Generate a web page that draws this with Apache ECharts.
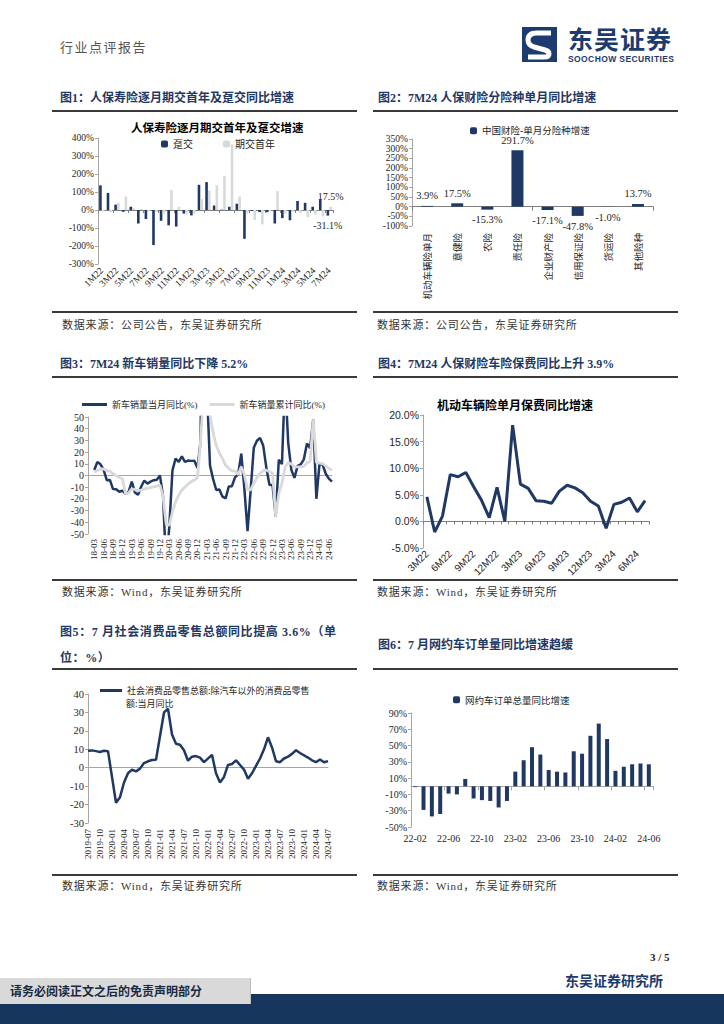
<!DOCTYPE html>
<html><head><meta charset="utf-8">
<script src="https://cdn.jsdelivr.net/npm/echarts/dist/echarts.min.js"></script>
<style>
html,body{margin:0;padding:0;background:#fff;}
body{width:724px;height:1024px;position:relative;overflow:hidden;font-family:'Liberation Serif','Noto Sans CJK SC',serif;}
.abs{position:absolute;white-space:nowrap;}
.hdr{left:60px;top:38px;font-size:13px;line-height:18px;color:#555;font-family:'Noto Sans CJK SC',sans-serif;letter-spacing:1.5px;}
.ft{font-size:12px;line-height:16px;font-weight:bold;color:#1f3864;font-family:'Liberation Serif','Noto Sans CJK SC',serif;}
.rule{position:absolute;height:2px;background:#3a3a3a;}
.src{font-size:11px;line-height:16px;color:#333;letter-spacing:0.8px;font-family:'Liberation Serif','Noto Sans CJK SC',serif;}
.chart{position:absolute;width:305px;}
</style></head>
<body>
<div class="abs hdr">行业点评报告</div>
<svg class="abs" style="left:522px;top:27px" width="35" height="35" viewBox="0 0 35 35">
  <rect width="35" height="35" fill="#1d3b6e"/>
  <path d="M29 6 L15 6 Q6 6 6 13 Q6 18 12 20 L23 23 Q27 24 27 27 Q27 30 22 30 L6 30" stroke="#fff" stroke-width="5" fill="none" stroke-linejoin="round"/>
  <path d="M12 14 L24 16" stroke="#1d3b6e" stroke-width="2"/>
</svg>
<div class="abs" style="left:568px;top:25px;font-size:25px;line-height:26px;font-weight:bold;color:#1d3b6e;font-family:'Noto Sans CJK SC',sans-serif;letter-spacing:1px;">东吴证券</div>
<div class="abs" style="left:568px;top:55px;font-size:8.5px;line-height:9px;font-weight:bold;color:#1d3b6e;font-family:'Liberation Sans',sans-serif;letter-spacing:0.4px;">SOOCHOW SECURITIES</div>

<div class="abs ft" style="left:60px;top:90px;">图1：人保寿险逐月期交首年及趸交同比增速</div>
<div class="abs ft" style="left:378px;top:90px;">图2：7M24 人保财险分险种单月同比增速</div>
<div class="rule" style="left:52px;top:110px;width:305px;"></div>
<div class="rule" style="left:373px;top:110px;width:305px;"></div>

<div id="c1" class="chart" style="left:52px;top:118px;height:192px;"></div>
<div id="c2" class="chart" style="left:373px;top:118px;height:192px;"></div>

<div class="rule" style="left:52px;top:311px;width:305px;"></div>
<div class="rule" style="left:373px;top:311px;width:305px;"></div>
<div class="abs src" style="left:62px;top:317px;">数据来源：公司公告，东吴证券研究所</div>
<div class="abs src" style="left:377px;top:317px;">数据来源：公司公告，东吴证券研究所</div>

<div class="abs ft" style="left:60px;top:356px;">图3：7M24 新车销量同比下降 5.2%</div>
<div class="abs ft" style="left:378px;top:356px;">图4：7M24 人保财险车险保费同比上升 3.9%</div>
<div class="rule" style="left:52px;top:376px;width:305px;"></div>
<div class="rule" style="left:373px;top:376px;width:305px;"></div>

<div id="c3" class="chart" style="left:52px;top:386px;height:190px;"></div>
<div id="c4" class="chart" style="left:373px;top:386px;height:190px;"></div>

<div class="rule" style="left:52px;top:579px;width:305px;"></div>
<div class="rule" style="left:373px;top:579px;width:305px;"></div>
<div class="abs src" style="left:62px;top:584px;">数据来源：Wind，东吴证券研究所</div>
<div class="abs src" style="left:377px;top:584px;">数据来源：Wind，东吴证券研究所</div>

<div class="abs ft" style="left:60px;top:619px;line-height:26px;letter-spacing:0.6px;">图5：7 月社会消费品零售总额同比提高 3.6%（单<br>位：%）</div>
<div class="abs ft" style="left:378px;top:637px;">图6：7 月网约车订单量同比增速趋缓</div>
<div class="rule" style="left:52px;top:668px;width:305px;"></div>
<div class="rule" style="left:373px;top:668px;width:305px;"></div>

<div id="c5" class="chart" style="left:52px;top:676px;height:196px;"></div>
<div id="c6" class="chart" style="left:373px;top:676px;height:196px;"></div>

<div class="rule" style="left:52px;top:874px;width:305px;"></div>
<div class="rule" style="left:373px;top:874px;width:305px;"></div>
<div class="abs src" style="left:62px;top:878px;">数据来源：Wind，东吴证券研究所</div>
<div class="abs src" style="left:377px;top:878px;">数据来源：Wind，东吴证券研究所</div>

<div class="abs" style="left:650px;top:949px;font-size:11px;line-height:16px;font-weight:bold;color:#222;">3 / 5</div>
<div class="abs" style="left:565px;top:971px;font-size:14px;line-height:18px;font-weight:bold;color:#1d3b6e;font-family:'Noto Sans CJK SC',sans-serif;">东吴证券研究所</div>
<div class="abs" style="left:0;top:994px;width:724px;height:30px;background:#17365d;"></div>
<div class="abs" style="left:0;top:978px;width:250px;height:26px;background:#d9d9d9;border-right:1px solid #bbb;"></div>
<div class="abs" style="left:10px;top:983px;font-size:12px;line-height:16px;font-weight:bold;color:#1a2a40;font-family:'Noto Sans CJK SC',sans-serif;">请务必阅读正文之后的免责声明部分</div>

<script>
// ---------- DATA ----------
const months1 = ['1M22','2M22','3M22','4M22','5M22','6M22','7M22','8M22','9M22','10M22','11M22','12M22',
  '1M23','2M23','3M23','4M23','5M23','6M23','7M23','8M23','9M23','10M23','11M23','12M23',
  '1M24','2M24','3M24','4M24','5M24','6M24','7M24'];
const dunjiao = [137,95,30,-10,18,-75,-50,-195,-60,-85,-92,-20,
  -30,140,155,25,2,18,35,-160,-5,-12,-12,-75,
  -45,-57,50,40,18,60,-31.1];
const qijiaoShouNian = [-8,-12,40,75,12,5,-5,-10,-20,110,18,-25,
  -20,62,108,137,190,365,75,-20,-55,-80,-5,105,
  -20,-10,-15,-40,-25,-35,17.5];

const cats2 = ['机动车辆险单月','意健险','农险','责任险','企业财产险','信用保证险','货运险','其他险种'];
const vals2 = [3.9,17.5,-15.3,291.7,-17.1,-47.8,-1.0,13.7];

const months3 = ['18-01','18-02','18-03','18-04','18-05','18-06','18-07','18-08','18-09','18-10','18-11','18-12',
  '19-01','19-02','19-03','19-04','19-05','19-06','19-07','19-08','19-09','19-10','19-11','19-12',
  '20-01','20-02','20-03','20-04','20-05','20-06','20-07','20-08','20-09','20-10','20-11','20-12',
  '21-01','21-02','21-03','21-04','21-05','21-06','21-07','21-08','21-09','21-10','21-11','21-12',
  '22-01','22-02','22-03','22-04','22-05','22-06','22-07','22-08','22-09','22-10','22-11','22-12',
  '23-01','23-02','23-03','23-04','23-05','23-06','23-07','23-08','23-09','23-10','23-11','23-12',
  '24-01','24-02','24-03','24-04','24-05','24-06','24-07'];
const carMonthly = [null,null,4.7,11.5,9.6,4.8,-4.0,-3.8,-11.6,-11.7,-13.9,-13.0,
  -15.8,-13.8,-5.2,-14.6,-16.4,-9.6,-4.3,-6.9,-5.2,-4.0,-3.6,0.1,
  -18.0,-79.1,-43.3,4.4,14.5,11.6,16.4,11.6,12.8,12.5,12.6,6.4,
  29.5,365.0,74.9,8.6,-3.1,-12.4,-11.9,-18.1,-19.6,-9.4,-9.1,-1.6,
  0.9,18.7,-11.7,-47.6,-12.6,23.8,29.7,32.1,25.7,6.9,-7.9,-8.4,
  -35.0,13.5,9.7,82.7,27.9,4.8,-2.0,8.2,9.5,13.8,27.4,23.3,
  47.9,-19.9,9.9,9.3,1.5,-2.7,-5.2];
const carCumulative = [null,null,2.8,4.4,5.6,5.6,4.2,3.5,1.5,-0.1,-1.7,-2.8,
  -15.8,-14.9,-11.3,-12.1,-13.1,-12.4,-11.4,-11.0,-10.3,-9.7,-9.1,-8.2,
  -18.0,-42.0,-42.4,-31.1,-22.6,-16.9,-12.5,-9.9,-7.4,-5.3,-3.6,-1.9,
  29.5,76.0,75.6,51.8,36.6,25.6,19.3,14.4,8.7,6.1,4.0,3.8,
  0.9,7.5,0.6,-12.1,-12.2,-6.6,-2.0,1.8,4.1,4.6,3.1,2.1,
  -35.0,-15.2,-6.7,7.1,11.1,9.8,7.4,7.4,7.4,8.0,10.8,12.0,
  47.9,11.1,10.6,10.2,8.3,6.1,4.4];

const months4 = ['3M22','4M22','5M22','6M22','7M22','8M22','9M22','10M22','11M22','12M22',
  '1M23','2M23','3M23','4M23','5M23','6M23','7M23','8M23','9M23','10M23','11M23','12M23',
  '1M24','2M24','3M24','4M24','5M24','6M24','7M24'];
const autoPremium = [4.6,-2.0,1.0,8.8,8.4,9.2,6.5,4.0,0.7,6.4,
  0.0,18.1,7.0,6.2,3.9,3.8,3.4,5.7,6.8,6.3,5.4,3.8,
  2.9,-1.3,3.2,3.6,4.4,1.8,3.9];

const months5 = ['2019-07','2019-08','2019-09','2019-10','2019-11','2019-12',
  '2020-01','2020-02','2020-03','2020-04','2020-05','2020-06','2020-07','2020-08','2020-09','2020-10','2020-11','2020-12',
  '2021-01','2021-02','2021-03','2021-04','2021-05','2021-06','2021-07','2021-08','2021-09','2021-10','2021-11','2021-12',
  '2022-01','2022-02','2022-03','2022-04','2022-05','2022-06','2022-07','2022-08','2022-09','2022-10','2022-11','2022-12',
  '2023-01','2023-02','2023-03','2023-04','2023-05','2023-06','2023-07','2023-08','2023-09','2023-10','2023-11','2023-12',
  '2024-01','2024-02','2024-03','2024-04','2024-05','2024-06','2024-07'];
const retailExAuto = [9.2,9.4,9.0,8.5,9.2,9.0,
  null,-19,-16,-8,-3,-1,-2,-0.5,2.5,3.5,4.2,4.3,
  null,30,32,18,13,12.5,9.5,3.8,6.0,6.3,5.5,3.0,
  null,7.0,-3.0,-8.0,-5.0,1.5,2.0,4.0,1.5,-1.0,-6.0,-3.0,
  null,5.0,10.0,16.5,11.0,3.5,3.0,5.0,6.0,7.5,9.5,8.0,
  null,5.5,4.0,3.0,4.5,3.0,3.6];

const months6 = ['22-02','22-03','22-04','22-05','22-06','22-07','22-08','22-09','22-10','22-11','22-12',
  '23-01','23-02','23-03','23-04','23-05','23-06','23-07','23-08','23-09','23-10','23-11','23-12',
  '24-01','24-02','24-03','24-04','24-05','24-06'];
const rideHailing = [-1,-29,-37,-34,-9,-10,9,-15,-17,-18,-26,
  -18,18,32,48,39,20,18,17,43,40,62,77,
  58,19,24,27,28,27];

// ---------- STYLE ----------
const NAVY='#1f3864', LGRAY='#d9d9d9', AX='#a6a6a6', ZERO='#7f7f7f', TXT='#262626';
const SERIF="'Liberation Serif','Noto Sans CJK SC',serif";
const SANS="'Liberation Sans','Noto Sans CJK SC',sans-serif";
const CJK="'Noto Sans CJK SC',sans-serif";

function mk(id,opt){const c=echarts.init(document.getElementById(id),null,{renderer:'svg'});c.setOption(opt);}
function yAx(min,max,interval,fmt,font,size){
  return {type:'value',min:min,max:max,interval:interval,splitLine:{show:false},
    axisLine:{show:true,lineStyle:{color:AX}},axisTick:{show:true,length:3,lineStyle:{color:AX}},
    axisLabel:{formatter:fmt,fontSize:size,fontFamily:font,color:TXT,margin:4}};
}
// x axis pair: line+ticks on the zero line, labels at the bottom of the plot
function xPair(data,boundaryGap,lineColor,tick,label){
  return [
    {type:'category',data:data,boundaryGap:boundaryGap,position:'bottom',
      axisLine:{show:true,onZero:true,lineStyle:{color:lineColor}},
      axisTick:tick,axisLabel:{show:false}},
    {type:'category',data:data,boundaryGap:boundaryGap,position:'bottom',
      axisLine:{show:false,onZero:false},axisTick:{show:false},axisLabel:label}
  ];
}
function lastLabel(arr,pos,fmt,extra){
  const last=arr.length-1;
  return arr.map((v,i)=> i===last ? {value:v,label:Object.assign({show:true,position:pos,formatter:fmt,fontSize:10,fontFamily:SERIF,color:TXT},extra||{})} : v);
}

// Chart 1
mk('c1',{animation:false,
  title:{text:'人保寿险逐月期交首年及趸交增速',left:79,top:3,padding:0,textStyle:{fontSize:11.5,fontWeight:'bold',color:'#000',fontFamily:CJK}},
  legend:{top:21,left:109,padding:0,itemWidth:7,itemHeight:7,itemGap:30,textStyle:{fontSize:10,color:TXT,fontFamily:SERIF},data:['趸交','期交首年']},
  grid:{left:46,top:20,width:235,height:126,outerBoundsMode:'none'},
  xAxis:xPair(months1,true,ZERO,{show:true,interval:1,length:3,lineStyle:{color:ZERO}},
    {interval:1,rotate:45,margin:5,fontSize:9.5,fontFamily:SERIF,color:TXT}),
  yAxis:yAx(-300,400,100,'{value}%',SERIF,9.5),
  series:[
    {name:'趸交',type:'bar',barWidth:2.6,barGap:'5%',itemStyle:{color:NAVY},data:lastLabel(dunjiao,'bottom','{c}%')},
    {name:'期交首年',type:'bar',barWidth:2.6,itemStyle:{color:LGRAY},data:lastLabel(qijiaoShouNian,'top','{c}%')}
  ]});

// Chart 2
mk('c2',{animation:false,
  legend:{top:8,left:97,padding:0,itemWidth:7,itemHeight:7,textStyle:{fontSize:9.5,color:TXT,fontFamily:SERIF},data:['中国财险-单月分险种增速']},
  grid:{left:39,top:21,width:241,height:87,outerBoundsMode:'none'},
  xAxis:xPair(cats2,true,ZERO,{show:true,length:4,lineStyle:{color:ZERO}},
    {interval:0,rotate:90,margin:7,fontSize:9.5,fontFamily:CJK,color:TXT}),
  yAxis:yAx(-100,350,50,'{value}%',SERIF,9.5),
  series:[{name:'中国财险-单月分险种增速',type:'bar',barWidth:12,itemStyle:{color:NAVY},
    label:{show:true,fontSize:10.5,fontFamily:SERIF,color:TXT,formatter:p=>p.value.toFixed(1)+'%'},
    data:vals2.map(v=>({value:v,label:{position:v<0?'bottom':'top'}}))}]
});

// Chart 3
mk('c3',{animation:false,
  legend:{top:14,left:30,padding:0,icon:'rect',itemWidth:25,itemHeight:3,itemGap:12,textStyle:{fontSize:9,color:TXT,fontFamily:SERIF},
    data:['新车销量当月同比(%)','新车销量累计同比(%)']},
  grid:{left:36,top:31,width:244,height:117,outerBoundsMode:'none'},
  xAxis:xPair(months3,false,AX,{show:false},
    {interval:i=>i%3===2,rotate:90,margin:5,fontSize:9,fontFamily:SERIF,color:TXT}),
  yAxis:yAx(-50,50,10,'{value}',SERIF,10),
  series:[
    {name:'新车销量当月同比(%)',type:'line',symbol:'none',data:carMonthly,lineStyle:{color:NAVY,width:2.5},itemStyle:{color:NAVY}},
    {name:'新车销量累计同比(%)',type:'line',symbol:'none',data:carCumulative,lineStyle:{color:LGRAY,width:2.8},itemStyle:{color:LGRAY}}
  ]});

// Chart 4
mk('c4',{animation:false,
  title:{text:'机动车辆险单月保费同比增速',left:64,top:12,padding:0,textStyle:{fontSize:12,fontWeight:'bold',color:'#000',fontFamily:CJK}},
  grid:{left:50,top:29,width:226,height:133,outerBoundsMode:'none'},
  xAxis:{type:'category',data:months4,axisLine:{onZero:true,lineStyle:{color:ZERO}},
    axisTick:{show:true,interval:0,length:3,lineStyle:{color:ZERO}},
    axisLabel:{interval:2,rotate:45,margin:4,fontSize:10,fontFamily:SANS,color:TXT}},
  yAxis:yAx(-5,20,5,v=>v.toFixed(1)+'%',SANS,10.5),
  series:[{name:'机动车辆险单月保费同比增速',type:'line',symbol:'none',lineStyle:{color:NAVY,width:3},itemStyle:{color:NAVY},
    data:lastLabel(autoPremium,'top','{c}%',{distance:8,fontSize:10.5,fontFamily:SANS})}]
});

// Chart 5
mk('c5',{animation:false,
  title:{text:'额:当月同比',left:74,top:23,padding:0,textStyle:{fontSize:9,fontWeight:'normal',color:TXT,fontFamily:CJK}},
  legend:{top:10,left:48,padding:0,icon:'rect',itemWidth:22,itemHeight:3,textStyle:{fontSize:9,color:TXT,fontFamily:CJK},
    formatter:()=>'社会消费品零售总额:除汽车以外的消费品零售',data:['社会消费品零售总额:除汽车以外的消费品零售额:当月同比']},
  grid:{left:36,top:18,width:240,height:129,outerBoundsMode:'none'},
  xAxis:xPair(months5,false,AX,{show:false},
    {interval:i=>i%3===0,rotate:90,margin:6,fontSize:9,fontFamily:SERIF,color:TXT}),
  yAxis:yAx(-30,40,10,'{value}',SERIF,10.5),
  series:[{name:'社会消费品零售总额:除汽车以外的消费品零售额:当月同比',type:'line',symbol:'none',connectNulls:true,
    lineStyle:{color:NAVY,width:2.5},itemStyle:{color:NAVY},
    data:lastLabel(retailExAuto,'top',p=>p.value.toFixed(2),{distance:7,fontSize:10.5})}]
});

// Chart 6
mk('c6',{animation:false,
  legend:{top:19,left:80,padding:0,itemWidth:7,itemHeight:7,textStyle:{fontSize:9.5,color:TXT,fontFamily:CJK},data:['网约车订单总量同比增速']},
  grid:{left:38,top:37,width:242,height:114,outerBoundsMode:'none'},
  xAxis:xPair(months6,true,AX,{show:true,interval:3,length:4,lineStyle:{color:AX}},
    {interval:3,margin:6,fontSize:10,fontFamily:SERIF,color:TXT}),
  yAxis:yAx(-50,90,20,'{value}%',SERIF,10),
  series:[{name:'网约车订单总量同比增速',type:'bar',barWidth:4,itemStyle:{color:NAVY},data:rideHailing}]
});
</script>
</body></html>
